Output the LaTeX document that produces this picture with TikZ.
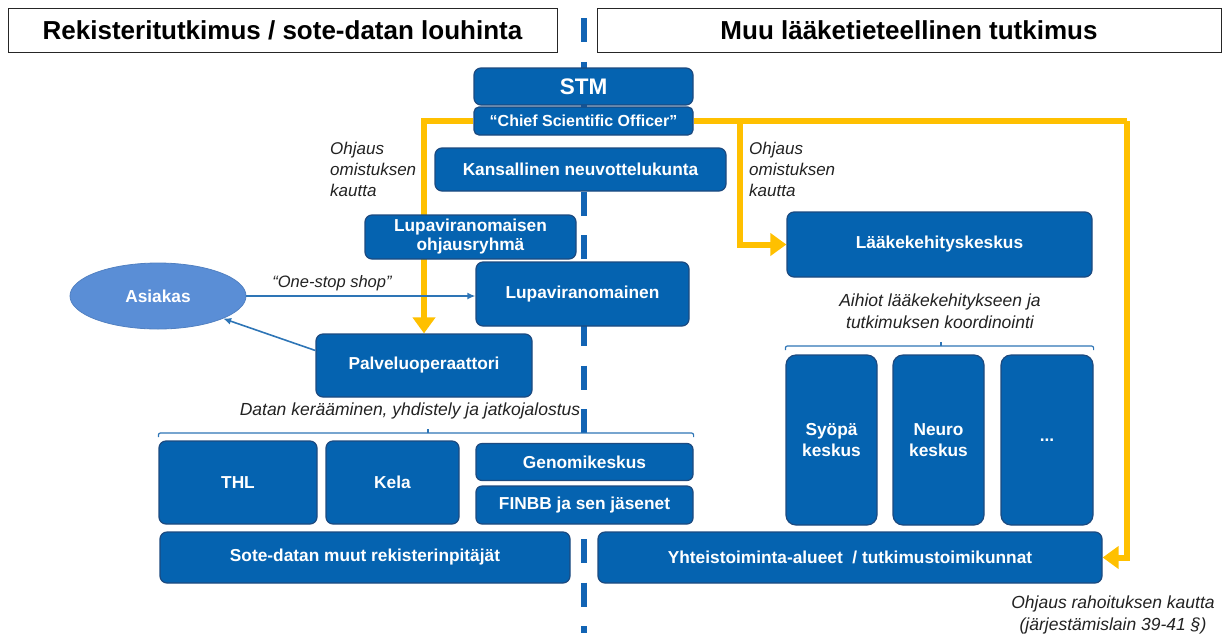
\documentclass[tikz,border=0pt]{standalone}
\usepackage{fontspec}
\setmainfont{Liberation Sans}
\usetikzlibrary{arrows.meta,shapes.geometric,calc}
\definecolor{boxblue}{RGB}{5,99,176}
\definecolor{boxedge}{RGB}{28,74,128}
\definecolor{ellblue}{RGB}{90,142,214}
\definecolor{ylw}{RGB}{255,192,0}
\definecolor{thinblue}{RGB}{46,117,182}
\definecolor{dashblue}{RGB}{18,100,180}
\definecolor{lbl}{RGB}{34,34,34}
\pgfdeclarelayer{bg}
\pgfsetlayers{bg,main}
\tikzset{
  box/.style={draw=boxedge, line width=1.2pt, fill=boxblue, rounded corners=7pt,
    text=white, font=\fontsize{17.3}{20}\selectfont\bfseries, inner sep=0pt, align=center},
  hdr/.style={draw=black!85, line width=1pt, fill=white, inner sep=0pt,
    font=\fontsize{26}{30}\selectfont\bfseries, text=black},
  ellbox/.style={ellipse, draw=ellblue!90!black, line width=0.8pt, fill=ellblue, inner sep=0pt,
    text=white, font=\fontsize{17.3}{20}\selectfont\bfseries},
  lbl/.style={text=lbl, inner sep=0pt, font=\fontsize{17}{21}\selectfont\itshape},
  slbl/.style={text=lbl, inner sep=0pt, font=\fontsize{17.5}{22}\selectfont\itshape},
  ylwline/.style={draw=ylw, line width=6pt},
  ylwarrow/.style={ylwline, -{Triangle[length=16pt,width=22pt]}},
  bluearrow/.style={draw=thinblue, line width=1.6pt, -{Latex[length=8pt,width=7pt]}},
  bracel/.style={draw=thinblue, line width=1.2pt, rounded corners=2pt},
  divider/.style={draw=dashblue, line width=5.5pt, dash pattern=on 24pt off 19.4pt, dash phase=25pt}
}
\begin{document}
\begin{tikzpicture}[x=1pt,y=-1pt]
\useasboundingbox (0,0) rectangle (1229,633);

% headers
\node[hdr, minimum width=549, minimum height=44] (hl) at (282.5,30) {Rekisteritutkimus / sote-datan louhinta};
\node[hdr, minimum width=624, minimum height=44] (hr) at (909,30) {Muu lääketieteellinen tutkimus};

% central column
\node[box, minimum width=219, minimum height=37, font=\fontsize{22.5}{26}\selectfont\bfseries] (stm) at (583.5,86.5) {STM};
\node[box, minimum width=219, minimum height=28, rounded corners=5pt, font=\fontsize{16}{18}\selectfont\bfseries] (cso) at (583.5,121) {“Chief Scientific Officer”};
\node[box, minimum width=291, minimum height=43] (kans) at (580.5,169.5) {Kansallinen neuvottelukunta};
\node[box, minimum width=211, minimum height=44] (ohjr) at (470.5,237) {Lupaviranomaisen\\[-1pt]ohjausryhmä};
\node[box, minimum width=213, minimum height=64] (lupa) at (582.5,294) {Lupaviranomainen};
\node[ellbox, minimum width=176, minimum height=66] (asiakas) at (158,296) {Asiakas};
\node[box, minimum width=216, minimum height=63] (palvelu) at (424,365.5) {Palveluoperaattori};

% data holders
\node[box, minimum width=158, minimum height=83] (thl) at (238,482.5) {THL};
\node[box, minimum width=133, minimum height=83] (kela) at (392.5,482.5) {Kela};
\node[box, minimum width=217, minimum height=37, rounded corners=6pt] (genomi) at (584.5,462) {Genomikeskus};
\node[box, minimum width=217, minimum height=38, rounded corners=6pt] (finbb) at (584.5,505) {FINBB ja sen jäsenet};
\node[box, minimum width=410, minimum height=51] (sote) at (365,557.5) {Sote-datan muut rekisterinpitäjät};

% right column
\node[box, minimum width=305, minimum height=65] (laake) at (939.5,244.5) {Lääkekehityskeskus};
\node[box, minimum width=91, minimum height=170, rounded corners=10pt] (syopa) at (831.5,440) {Syöpä\\[1pt]keskus};
\node[box, minimum width=91, minimum height=170, rounded corners=10pt] (neuro) at (938.5,440) {Neuro\\[1pt]keskus};
\node[box, minimum width=92, minimum height=170, rounded corners=10pt] (dots) at (1047,440) {...};
\node[box, minimum width=504, minimum height=51] (yhteis) at (850,557.5) {Yhteistoiminta-alueet\ \ /\ tutkimustoimikunnat};

% labels
\node[lbl, align=left, anchor=north west] (ol) at (330,142) {Ohjaus\\omistuksen\\kautta};
\node[lbl, align=left, anchor=north west] (or) at (749,142) {Ohjaus\\omistuksen\\kautta};
\node[slbl, font=\fontsize{16.5}{20}\selectfont\itshape] (oss) at (332,283) {“One-stop shop”};
\node[slbl] (datan) at (410,411) {Datan kerääminen, yhdistely ja jatkojalostus};
\node[slbl, align=center] (aihiot) at (940,311) {Aihiot lääkekehitykseen ja\\tutkimuksen koordinointi};
\node[slbl, align=center] (rahoitus) at (1113,614.5) {Ohjaus rahoituksen kautta\\(järjestämislain 39-41 §)};

% braces
\draw[bracel] (thl.north west |- 0,437) -- (thl.north west |- 0,433) -- (finbb.north east |- 0,433) -- (finbb.north east |- 0,437);
\draw[bracel] (428,433) -- (428,429);
\draw[bracel] (syopa.north west |- 0,350) -- (syopa.north west |- 0,346) -- (dots.north east |- 0,346) -- (dots.north east |- 0,350);
\draw[bracel] (941,346) -- (941,342);

% blue arrows
\draw[bluearrow] (asiakas.east) -- (lupa.west |- asiakas.east);
\draw[bluearrow] ($(palvelu.west)+(0,-15)$) -- (asiakas);

% background: divider and yellow control lines
\coordinate (dtop) at (584,0);
\coordinate (dbot) at (584,633);
\coordinate (rc) at (1127,121);
\coordinate (bc) at (740,121);
\begin{pgfonlayer}{bg}
\draw[divider] (dtop) -- (dbot);
\draw[ylwarrow] (cso.west) -| (palvelu.north);
\draw[ylwline] (cso.east) -- (rc);
\draw[ylwarrow] (rc) |- (yhteis.east);
\draw[ylwarrow] (bc) |- (laake.west);
\end{pgfonlayer}
\end{tikzpicture}
\end{document}
